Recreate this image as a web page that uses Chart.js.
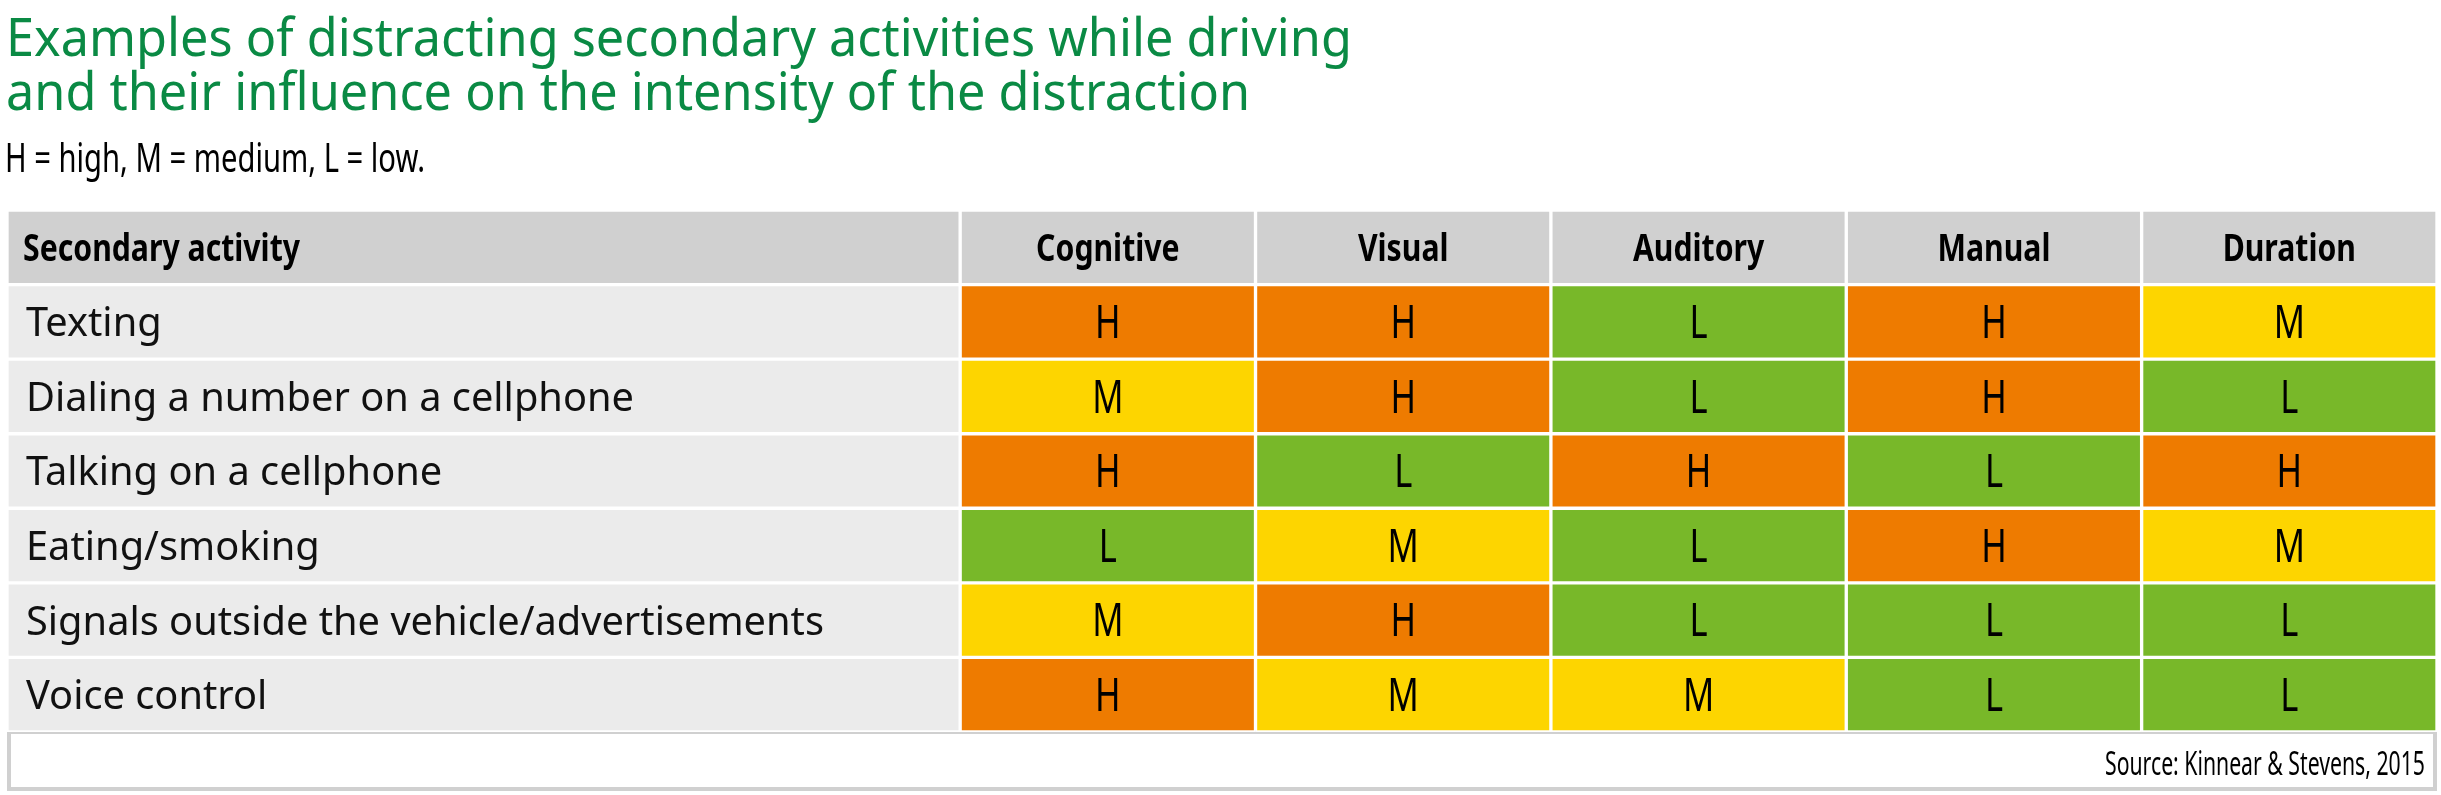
<!DOCTYPE html>
<html><head><meta charset="utf-8">
<script src="https://cdn.jsdelivr.net/npm/chart.js@4"></script>
<style>html,body{margin:0;padding:0;background:#fff}#c{display:block}</style>
</head><body><canvas id="c" width="2441" height="795"></canvas>
<script>
const titleLines = ["Examples of distracting secondary activities while driving","and their influence on the intensity of the distraction"];
const subtitle = "H = high, M = medium, L = low.";
const source = "Source: Kinnear & Stevens, 2015";
const headerFirst = "Secondary activity";
const dimensions = ["Cognitive","Visual","Auditory","Manual","Duration"];
const activities = ["Texting","Dialing a number on a cellphone","Talking on a cellphone","Eating/smoking","Signals outside the vehicle/advertisements","Voice control"];
const cognitive = ["H","M","H","L","M","H"];
const visual    = ["H","H","L","M","H","M"];
const auditory  = ["L","L","H","L","L","M"];
const manual    = ["H","H","L","H","L","L"];
const duration  = ["M","L","H","M","L","L"];
const ratings = [cognitive, visual, auditory, manual, duration];

const COL = {H:"#EE7B00", M:"#FDD500", L:"#78B829"};
const ACT_W = 3.227; // activity column width in rating-column units
const rowsAll = ["__header", ...activities];

const datasets = [];
datasets.push({
  data: rowsAll.map((r,i)=>[0,ACT_W]),
  backgroundColor: rowsAll.map((r,i)=> i===0 ? "#D0D0D0" : "#EBEBEB"),
  texts: rowsAll.map((r,i)=> i===0 ? headerFirst : r), kind:"act"
});
dimensions.forEach((d,j)=>{
  datasets.push({
    data: rowsAll.map(()=>[ACT_W+j, ACT_W+j+1]),
    backgroundColor: rowsAll.map((r,i)=> i===0 ? "#D0D0D0" : COL[ratings[j][i-1]]),
    texts: rowsAll.map((r,i)=> i===0 ? d : ratings[j][i-1]), kind:"val"
  });
});
datasets.forEach(ds=>{ds.borderColor="#fff";ds.borderWidth=2;ds.borderSkipped=false;ds.grouped=false;ds.barPercentage=1;ds.categoryPercentage=1;});

function fitScale(ctx, font, text, target){ctx.font=font;return target/ctx.measureText(text).width;}
function drawScaled(ctx, text, x, y, font, sx, align){
  ctx.save();ctx.font=font;ctx.textAlign=align||"left";ctx.translate(x,y);ctx.scale(sx,1);ctx.fillText(text,0,0);ctx.restore();
}

const textPlugin = {
  id:"texts",
  afterDatasetsDraw(chart){
    const ctx = chart.ctx;
    ctx.save();
    ctx.textBaseline="middle";
    ctx.fillStyle="#000";
    const labFont = "40px 'Noto Sans'";
    const labS = fitScale(ctx, labFont, "Dialing a number on a cellphone", 608);
    const valFont = "46px 'Noto Sans'";
    const hdrFont = "bold 38px 'Noto Sans'";
    const hdrS = fitScale(ctx, hdrFont, headerFirst, 277);
    chart.data.datasets.forEach((ds,di)=>{
      const meta = chart.getDatasetMeta(di);
      meta.data.forEach((bar,i)=>{
        const t = ds.texts[i];
        const y = bar.y + 3;
        if(i===0){
          ctx.fillStyle="#000";
          if(ds.kind==="act") drawScaled(ctx,t,bar.base+16,y,hdrFont,hdrS,"left");
          else drawScaled(ctx,t,(bar.x+bar.base)/2,y,hdrFont,hdrS,"center");
        } else if(ds.kind==="act"){
          ctx.fillStyle="#111";
          drawScaled(ctx,t,bar.base+19,y,labFont,labS,"left");
        } else {
          ctx.fillStyle="#000";
          drawScaled(ctx,t,(bar.x+bar.base)/2,y,valFont,0.75,"center");
        }
      });
    });
    ctx.restore();
  },
  beforeDraw(chart){
    const ctx = chart.ctx;
    ctx.save();
    ctx.fillStyle="#fff";ctx.fillRect(0,0,chart.width,chart.height);
    ctx.textBaseline="alphabetic";
    ctx.fillStyle="#0A8A44";
    const tf = "52px 'Noto Sans'";
    const ts = fitScale(ctx, tf, titleLines[0], 1346);
    drawScaled(ctx,titleLines[0],6,56,tf,ts);
    drawScaled(ctx,titleLines[1],6,110,tf,ts);
    ctx.fillStyle="#000";
    const sf = "40px 'Noto Sans'";
    const ss = fitScale(ctx, sf, subtitle, 420);
    drawScaled(ctx,subtitle,5,172,sf,ss);
    // source box
    const a = chart.chartArea;
    ctx.strokeStyle="#D0D0D0";ctx.lineWidth=4;
    ctx.strokeRect(a.left+2, a.bottom, a.right-a.left-4, 57);
    const srf = "32px 'Noto Sans'";
    const srs = fitScale(ctx, srf, source, 320);
    drawScaled(ctx,source,a.right-12,775,srf,srs,"right");
    ctx.restore();
  }
};

new Chart(document.getElementById("c"),{
  type:"bar",
  data:{labels:rowsAll, datasets},
  options:{
    indexAxis:"y", responsive:false, animation:false,
    layout:{padding:{left:7,right:4,top:210,bottom:63}},
    plugins:{legend:{display:false},tooltip:{enabled:false}},
    scales:{
      x:{type:"linear",min:0,max:ACT_W+5,display:false},
      y:{type:"category",display:false,offset:true}
    }
  },
  plugins:[textPlugin]
});
</script></body></html>
